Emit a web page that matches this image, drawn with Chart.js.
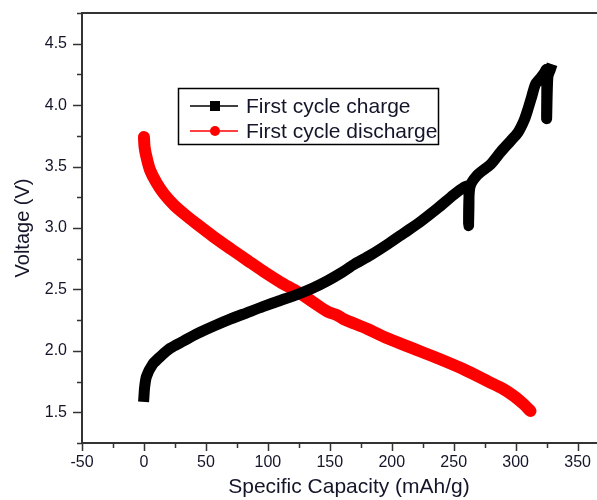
<!DOCTYPE html>
<html>
<head>
<meta charset="utf-8">
<script src="https://cdn.jsdelivr.net/npm/chart.js@4.4.1/dist/chart.umd.min.js"></script>
<style>
  html, body { margin: 0; padding: 0; background: #fff; overflow: hidden; }
  /* plot frame runs a bit past the right edge of the window, like the original figure */
  #voltage_chart { position: absolute; left: 0; top: 0; }
</style>
</head>
<body>
<canvas id="voltage_chart" width="616" height="500"></canvas>
<script>
/* ===== DATA ===== */
const charge_label = "First cycle charge";
const charge_x = [0, 0.5, 2, 7, 14, 21, 32, 43, 56, 70, 83, 96, 110, 124, 136, 148, 160, 169, 183, 197, 210, 223, 237, 250, 258, 262, 262, 263, 269, 280, 288, 296, 302, 307, 310, 313, 316, 320, 323, 325, 325, 326, 328];
const charge_y = [1.63, 1.70, 1.79, 1.89, 1.96, 2.02, 2.08, 2.14, 2.20, 2.26, 2.31, 2.36, 2.41, 2.46, 2.51, 2.57, 2.64, 2.70, 2.78, 2.87, 2.96, 3.05, 3.16, 3.27, 3.33, 3.34, 3.02, 3.33, 3.43, 3.52, 3.62, 3.71, 3.78, 3.88, 3.97, 4.07, 4.17, 4.22, 4.26, 4.29, 3.89, 4.23, 4.29];

const discharge_label = "First cycle discharge";
const discharge_x = [0, 0.5, 2, 5, 10, 16, 24, 33, 43, 56, 70, 83, 96, 110, 124, 136, 148, 156, 161, 180, 197, 217, 237, 258, 278, 290, 299, 306, 312];
const discharge_y = [3.74, 3.66, 3.58, 3.47, 3.37, 3.28, 3.19, 3.11, 3.03, 2.93, 2.83, 2.74, 2.65, 2.56, 2.48, 2.40, 2.32, 2.29, 2.26, 2.18, 2.10, 2.02, 1.94, 1.85, 1.75, 1.69, 1.63, 1.57, 1.51];

const x_ticks = [-50, 0, 50, 100, 150, 200, 250, 300, 350];
const y_ticks = [1.5, 2.0, 2.5, 3.0, 3.5, 4.0, 4.5];

const x_title = "Specific Capacity (mAh/g)";
const y_title = "Voltage (V)";

const FONT = "'Liberation Sans', Arial, sans-serif";
const AXIS_COLOR = "#333";
const TEXT_COLOR = "#15152a";

function to_points(xs, ys) {
  return xs.map((x, i) => ({ x: x, y: ys[i] }));
}

/* ===== PLUGINS ===== */
// frame top line + major/minor ticks pointing outwards
const frame_ticks_plugin = {
  id: 'frame_ticks',
  afterDraw(chart) {
    const ctx = chart.ctx;
    const area = chart.chartArea;
    const sx = chart.scales.x;
    const sy = chart.scales.y;
    ctx.save();
    // nothing belongs along the right edge, keep it blank
    ctx.fillStyle = "#fff";
    ctx.fillRect(area.right - 26, area.top + 2, 26, area.bottom - area.top - 3);

    ctx.strokeStyle = AXIS_COLOR;
    ctx.lineWidth = 2;
    ctx.beginPath();
    ctx.moveTo(area.left, area.top);
    ctx.lineTo(area.right, area.top);
    ctx.stroke();

    ctx.lineWidth = 1.5;
    ctx.beginPath();
    const step_x = x_ticks[1] - x_ticks[0];
    for (let v = sx.min; v <= sx.max + 0.001; v += step_x / 2) {
      const px = Math.round(sx.getPixelForValue(v)) + 0.5;
      const major = x_ticks.includes(v);
      ctx.moveTo(px, area.bottom);
      ctx.lineTo(px, area.bottom + (major ? 8 : 5));
    }
    const step_y = y_ticks[1] - y_ticks[0];
    for (let v = y_ticks[0] - step_y / 2; v <= sy.max + 0.001; v += step_y / 2) {
      const py = Math.round(sy.getPixelForValue(v)) + 0.5;
      const major = y_ticks.some(t => Math.abs(t - v) < 0.001);
      ctx.moveTo(area.left, py);
      ctx.lineTo(area.left - (major ? 9 : 5), py);
    }
    ctx.stroke();
    ctx.restore();
  }
};

// legend box drawn inside the plot
const legend_box_plugin = {
  id: 'legend_box',
  afterDraw(chart) {
    const ctx = chart.ctx;
    ctx.save();
    ctx.strokeStyle = "#000";
    ctx.lineWidth = 1.5;
    ctx.strokeRect(178.5, 88.5, 260, 56);
    const rows = [
      { y: 106, color: "#000", label: charge_label, marker: 'square' },
      { y: 131, color: "#ff0000", label: discharge_label, marker: 'circle' }
    ];
    ctx.font = "21px " + FONT;
    ctx.textBaseline = 'middle';
    rows.forEach(r => {
      ctx.strokeStyle = r.color;
      ctx.fillStyle = r.color;
      ctx.lineWidth = 1.5;
      ctx.beginPath();
      ctx.moveTo(190, r.y);
      ctx.lineTo(238, r.y);
      ctx.stroke();
      if (r.marker == 'square') {
        ctx.fillRect(210, r.y - 5, 10, 10);
      } else {
        ctx.beginPath();
        ctx.arc(215, r.y, 5, 0, Math.PI * 2);
        ctx.fill();
      }
      ctx.fillStyle = TEXT_COLOR;
      ctx.fillText(r.label, 246, r.y + 1);
    });
    ctx.restore();
  }
};

/* ===== CHART ===== */
const chart_ctx = document.getElementById('voltage_chart');

const dataset_charge = {
  label: charge_label,
  data: to_points(charge_x, charge_y),
  borderColor: "#000",
  backgroundColor: "#000",
  borderWidth: 11,
  borderCapStyle: 'square',
  borderJoinStyle: 'round',
  pointRadius: 0,
  tension: 0.25
};
const dataset_discharge = {
  label: discharge_label,
  data: to_points(discharge_x, discharge_y),
  borderColor: "#ff0000",
  backgroundColor: "#ff0000",
  borderWidth: 12,
  borderCapStyle: 'round',
  borderJoinStyle: 'round',
  pointRadius: 0,
  tension: 0.3
};

const chart_config = {
  type: 'line',
  data: { datasets: [dataset_charge, dataset_discharge] },
  options: {
    responsive: false,
    animation: false,
    layout: { padding: { top: 13, right: 0, left: 0, bottom: 0 } },
    plugins: {
      legend: { display: false },
      tooltip: { enabled: false }
    },
    scales: {
      x: {
        type: 'linear',
        min: -50,
        max: 381,
        afterBuildTicks: (s) => { s.ticks = x_ticks.map(v => ({ value: v })); },
        afterFit: (s) => { s.height = 57; },
        grid: { drawOnChartArea: false, drawTicks: false },
        border: { display: true, color: AXIS_COLOR, width: 2 },
        ticks: {
          padding: 10,
          color: TEXT_COLOR,
          maxRotation: 0,
          autoSkip: false,
          font: { family: FONT, size: 16 },
          callback: (v) => String(v)
        },
        title: {
          display: true,
          text: x_title,
          color: TEXT_COLOR,
          padding: { top: 0, bottom: 0 },
          font: { family: FONT, size: 21 }
        }
      },
      y: {
        type: 'linear',
        min: 1.25,
        max: 4.75,
        afterBuildTicks: (s) => { s.ticks = y_ticks.map(v => ({ value: v })); },
        afterFit: (s) => {
          s.width = 82;
          s.paddingTop = 0;
          s.paddingBottom = 0;
        },
        grid: { drawOnChartArea: false, drawTicks: false },
        border: { display: true, color: AXIS_COLOR, width: 2 },
        ticks: {
          padding: 15,
          color: TEXT_COLOR,
          autoSkip: false,
          font: { family: FONT, size: 16 },
          callback: (v) => Number(v).toFixed(1)
        },
        title: {
          display: true,
          text: y_title,
          color: TEXT_COLOR,
          padding: { top: 11, bottom: 0 },
          font: { family: FONT, size: 20 }
        }
      }
    }
  },
  plugins: [frame_ticks_plugin, legend_box_plugin]
};

const chart1 = new Chart(chart_ctx, chart_config);
</script>
</body>
</html>
